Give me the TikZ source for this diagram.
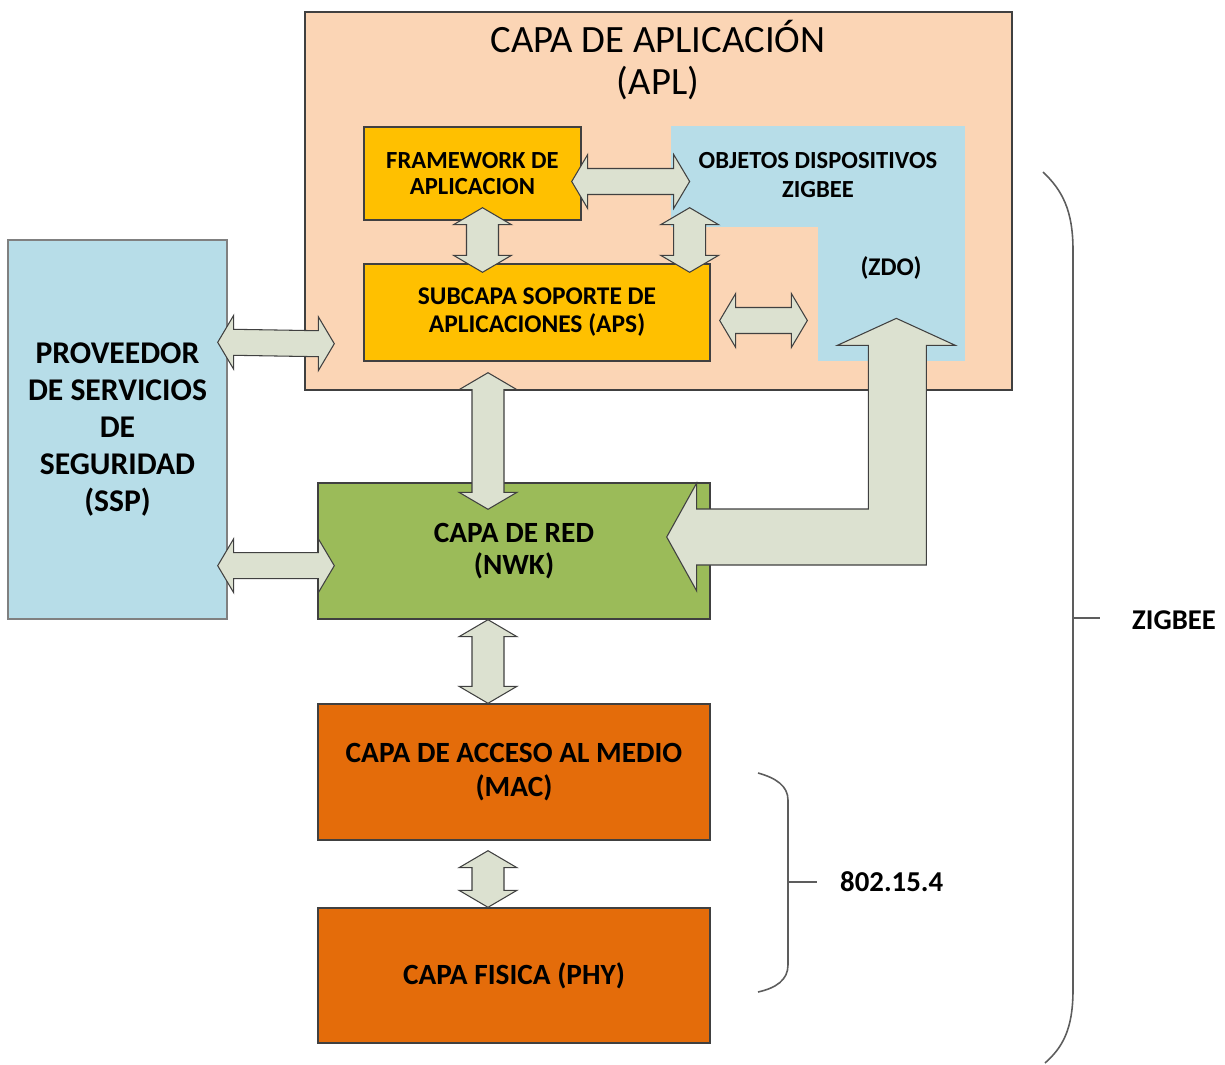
\documentclass[tikz,border=0pt]{standalone}
\usepackage{fontspec}
\setmainfont{Carlito}
\usepackage{tikz}
\usetikzlibrary{calc,fit}

\definecolor{aplpeach}{HTML}{FBD5B5}
\definecolor{fwyellow}{HTML}{FFC000}
\definecolor{zdoblue}{HTML}{B7DDE8}
\definecolor{nwkgreen}{HTML}{9BBB59}
\definecolor{macorange}{HTML}{E46C0A}
\definecolor{arrowgray}{HTML}{DCE1D0}
\definecolor{edgegray}{HTML}{404040}

\tikzset{
  layer/.style={draw=edgegray, line width=0.8pt, inner sep=0pt},
  txt/.style 2 args={align=center, font=\bfseries\fontsize{#1}{#2}\selectfont},
  blockarrow/.style={draw=edgegray, fill=arrowgray, line width=0.6pt, line join=miter},
  brace/.style={draw=edgegray!85, line width=0.9pt},
}

% horizontal double block arrow: left tip, right tip
\newcommand{\harrow}[2]{%
  \path (#1) coordinate (aL) (#2) coordinate (aR);
  \draw[blockarrow] (aL) -- ++(16,-27) -- ++(0,14) -- ($(aR)+(-16,-13)$) -- ++(0,-14) -- (aR)
    -- ++(-16,27) -- ++(0,-14) -- ($(aL)+(16,13)$) -- ++(0,14) -- cycle;}
% vertical double block arrow: top tip, bottom tip
\newcommand{\varrow}[2]{%
  \path (#1) coordinate (aT) (#2) coordinate (aB);
  \draw[blockarrow] (aT) -- ++(29,17) -- ++(-13,0) -- ($(aB)+(16,-17)$) -- ++(13,0) -- (aB)
    -- ++(-29,-17) -- ++(13,0) -- ($(aT)+(-16,17)$) -- ++(-13,0) -- cycle;}

\begin{document}
\begin{tikzpicture}[x=0.02cm, y=-0.02cm]
\useasboundingbox (0,0) rectangle (1225,1065);

% application layer
\node[layer, fill=aplpeach, fit={(305,12) (1012,390)}] (apl) {};
\node[align=center, font=\fontsize{22}{24}\selectfont] (apltitle) at (658,60) {CAPA DE APLICACIÓN\\(APL)};
\node[fill=zdoblue, inner sep=0pt, fit={(671,126) (965,361)}] (zdo) {};
\node[fill=aplpeach, inner sep=0pt, fit={(671,227) (818,361)}] (notch) {};
\node[txt={14}{16}] (zdotxt) at (818,175) {OBJETOS DISPOSITIVOS\\ZIGBEE};
\node[txt={14.5}{16}] (zdoabbr) at (891,268) {(ZDO)};
\node[layer, fill=fwyellow, fit={(364,127) (581,220)},
  label={[txt={14}{14.7}]center:FRAMEWORK DE\\APLICACION}] (fw) {};
\node[layer, fill=fwyellow, fit={(364,264) (710,361)},
  label={[txt={14.5}{16}]center:SUBCAPA SOPORTE DE\\APLICACIONES (APS)}] (aps) {};

% other layers
\node[layer, draw=gray, fill=zdoblue, fit={(8,240) (227,619)},
  label={[txt={18}{21}]center:PROVEEDOR\\DE SERVICIOS\\DE\\SEGURIDAD\\(SSP)}] (ssp) {};
\node[layer, fill=nwkgreen, fit={(318,483) (710,619)},
  label={[txt={16.7}{18}]center:CAPA DE RED\\(NWK)}] (nwk) {};
\node[layer, fill=macorange, fit={(318,704) (710,840)},
  label={[txt={16.7}{19}]center:CAPA DE ACCESO AL MEDIO\\(MAC)}] (mac) {};
\node[layer, fill=macorange, fit={(318,908) (710,1043)},
  label={[txt={16.7}{19}]center:CAPA FISICA (PHY)}] (phy) {};

% block arrows
\harrow{$(fw.east)+(-10,8)$}{$(zdo.west |- fw.east)+(19,8)$} % framework - zdo
\varrow{$(fw.south)+(10,-13)$}{$(aps.north -| fw.south)+(10,9)$} % framework - aps
\varrow{$(zdo.west |- fw.south)+(19,-13)$}{$(zdo.west |- aps.north)+(19,9)$} % zdo - aps
\harrow{$(aps.east)+(9,8)$}{$(notch.east |- aps.east)+(-11,8)$} % aps - zdo
\harrow{$(ssp.north east)+(-10,103)$}{$(apl.south west)+(30,-47)$} % ssp - apl
\harrow{$(ssp.south east)+(-10,-54)$}{$(nwk.south west)+(17,-54)$} % ssp - nwk
\varrow{$(aps.south)+(-49,11)$}{$(nwk.north)+(-26,27)$} % aps - nwk
\varrow{$(nwk.south)+(-26,0)$}{$(mac.north)+(-26,0)$} % nwk - mac
\varrow{$(mac.south)+(-26,10)$}{$(phy.north)+(-26,0)$} % mac - phy

% nwk - zdo
\path ($(nwk.east)+(-44,-14)$) coordinate (tipL) ($(zdo.south east)+(-69,-43)$) coordinate (tipU);
\draw[blockarrow] (tipL) -- ++(30,-54) -- ++(0,26) -| ($(tipU)+(-28,27)$) -- ++(-31,0) -- (tipU)
  -- ++(59,27) -- ++(-29,0) |- ($(tipL)+(30,28)$) -- ++(0,26) -- cycle;

% braces
\node[anchor=west, txt={16.4}{18}] (ieee) at (834,882) {802.15.4};
\draw[brace] (758,773) .. controls (776,778) and (788,786) .. (788,800) -- (788,965)
  .. controls (788,980) and (776,988) .. (758,992);
\draw[brace] (788,882) -- ++(29,0);
\node[anchor=west, txt={16.3}{18}] (zigbee) at (1126,620) {ZIGBEE};
\draw[brace] (1043,172) .. controls (1062,190) and (1073,210) .. (1073,250) -- (1073,990)
  .. controls (1073,1030) and (1062,1048) .. (1045,1063);
\draw[brace] (1073,618) -- ++(27,0);

\end{tikzpicture}
\end{document}
